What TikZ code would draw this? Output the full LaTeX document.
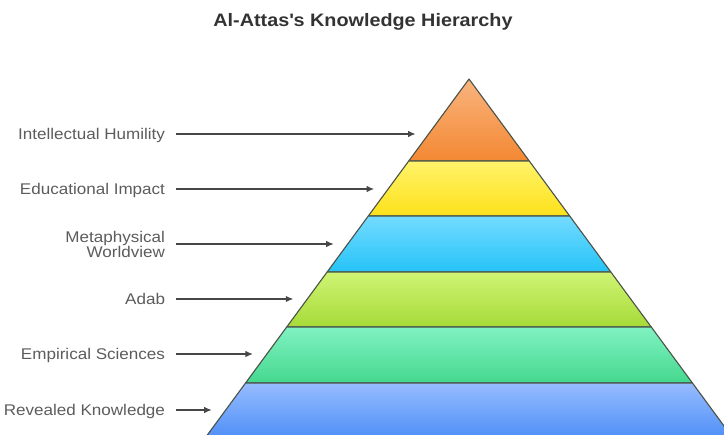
\documentclass[tikz,border=0pt]{standalone}
\usepackage{fontspec}
\setmainfont{Liberation Sans}[FakeStretch=1.1]
\usetikzlibrary{arrows.meta}

\definecolor{titlegray}{HTML}{333333}
\definecolor{labelgray}{HTML}{5C5C5C}
\definecolor{arrowgray}{HTML}{474747}
\definecolor{edgegray}{HTML}{4A5248}
\definecolor{orangetop}{HTML}{F9B47E}
\definecolor{orangebot}{HTML}{F38833}
\definecolor{yellowtop}{HTML}{FFF36A}
\definecolor{yellowbot}{HTML}{FDE11A}
\definecolor{cyantop}{HTML}{74DBFF}
\definecolor{cyanbot}{HTML}{25C3F7}
\definecolor{limetop}{HTML}{D0F474}
\definecolor{limebot}{HTML}{A6DA38}
\definecolor{greentop}{HTML}{80F2C2}
\definecolor{greenbot}{HTML}{45D88E}
\definecolor{bluetop}{HTML}{96BCFF}
\definecolor{bluebot}{HTML}{4A8CF6}

\begin{document}
\begin{tikzpicture}[x=1pt, y=-1pt,
  lbl/.style={anchor=east, inner xsep=0pt, outer xsep=11pt, align=right,
    text depth=0pt, text=labelgray, font=\fontsize{15.5}{15}\selectfont},
  arr/.style={draw=arrowgray, line width=1.2pt, -{Latex[length=7.5pt,width=6.5pt]}},
  layer/.style={draw=edgegray, line width=1.1pt, line join=round}]

  % Fix the page to the size of the picture
  \useasboundingbox (0,0) rectangle (724,435);

  % Title
  \node[font=\bfseries\fontsize{18}{18}\selectfont, text=titlegray] (title) at (363,22)
    {Al-Attas\textquotesingle s Knowledge Hierarchy};

  % Apex and slope of the pyramid
  \pgfmathsetmacro{\ax}{469}
  \pgfmathsetmacro{\ay}{79}
  \pgfmathsetmacro{\k}{0.735}
  \coordinate (Apex) at (\ax,\ay);

  % Corners of the layers (left and right)
  \coordinate (L1) at ({\ax-\k*(161-\ay)},161);
  \coordinate (R1) at ({\ax+\k*(161-\ay)},161);
  \coordinate (L2) at ({\ax-\k*(216-\ay)},216);
  \coordinate (R2) at ({\ax+\k*(216-\ay)},216);
  \coordinate (L3) at ({\ax-\k*(272-\ay)},272);
  \coordinate (R3) at ({\ax+\k*(272-\ay)},272);
  \coordinate (L4) at ({\ax-\k*(327-\ay)},327);
  \coordinate (R4) at ({\ax+\k*(327-\ay)},327);
  \coordinate (L5) at ({\ax-\k*(383-\ay)},383);
  \coordinate (R5) at ({\ax+\k*(383-\ay)},383);
  \coordinate (L6) at ({\ax-\k*(442-\ay)},442);
  \coordinate (R6) at ({\ax+\k*(442-\ay)},442);

  % Layers, top to bottom
  \path[layer, top color=orangetop, bottom color=orangebot] (Apex) -- (R1) -- (L1) -- cycle;
  \path[layer, top color=yellowtop, bottom color=yellowbot] (L1) -- (R1) -- (R2) -- (L2) -- cycle;
  \path[layer, top color=cyantop, bottom color=cyanbot] (L2) -- (R2) -- (R3) -- (L3) -- cycle;
  \path[layer, top color=limetop, bottom color=limebot] (L3) -- (R3) -- (R4) -- (L4) -- cycle;
  \path[layer, top color=greentop, bottom color=greenbot] (L4) -- (R4) -- (R5) -- (L5) -- cycle;
  \path[layer, top color=bluetop, bottom color=bluebot] (L5) -- (R5) -- (R6) -- (L6) -- cycle;

  % Arrow tips, a little left of the pyramid edge
  \coordinate (tHum) at ({\ax-\k*(134-\ay)-13},134);
  \coordinate (tEdu) at ({\ax-\k*(189-\ay)-14},189);
  \coordinate (tMet) at ({\ax-\k*(244-\ay)-14},244);
  \coordinate (tAdab) at ({\ax-\k*(299-\ay)-14},299);
  \coordinate (tEmp) at ({\ax-\k*(354-\ay)-14},354);
  \coordinate (tRev) at ({\ax-\k*(410-\ay)-14},410);

  % Labels on the left
  \node[lbl] (hum) at (176,134) {Intellectual Humility};
  \node[lbl] (edu) at (176,189) {Educational Impact};
  \node[lbl] (met) at (176,244) {Metaphysical\\Worldview};
  \node[lbl] (adab) at (176,299) {Adab};
  \node[lbl] (emp) at (176,354) {Empirical Sciences};
  \node[lbl] (rev) at (176,410) {Revealed Knowledge};

  % Arrows from the labels to the layers
  \draw[arr] (hum) -- (tHum);
  \draw[arr] (edu) -- (tEdu);
  \draw[arr] (met) -- (tMet);
  \draw[arr] (adab) -- (tAdab);
  \draw[arr] (emp) -- (tEmp);
  \draw[arr] (rev) -- (tRev);

\end{tikzpicture}
\end{document}
